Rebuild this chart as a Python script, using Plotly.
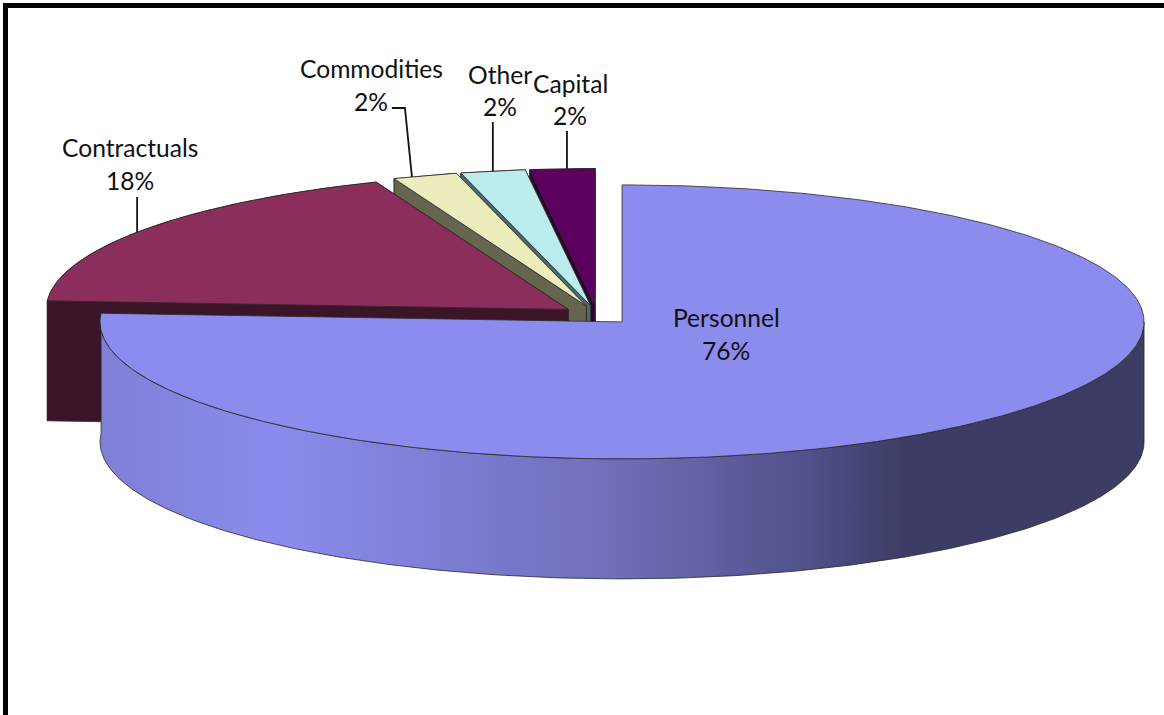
import math
import plotly.graph_objects as go

# Budget shares, clockwise from twelve o'clock
categories = ["Personnel", "Contractuals", "Commodities", "Other", "Capital"]
shares = [76, 18, 2, 2, 2]

top_colors = ["#8C8CEE", "#8B2E5C", "#ECECBC", "#BBEDEE", "#5E0060"]
side_colors = ["#3C3C64", "#3C1428", "#66664E", "#4C6A6E", "#330033"]
edge_color = "#2A2A2A"

# Projection of the tilted pie onto the page, in page pixels
center_x, center_y = 597.4, 315.0
radius_x, radius_y = 522.0, 137.0
depth = 120.0
explode = 36.0

wall_stops = [[0.0, "#7F7FD6"], [0.17, "#8B8BEE"], [0.5, "#6E6EB8"], [0.68, "#50508A"],
              [0.77, "#3C3C64"], [1.0, "#3C3C64"]]


def point(cx, cy, degrees):
    a = math.radians(degrees)
    return cx + radius_x * math.sin(a), cy - radius_y * math.cos(a)


def polygon(xs, ys, fill, **extra):
    return go.Scatter(
        x=xs + xs[:1], y=ys + ys[:1], mode="lines", fill="toself", fillcolor=fill,
        line=dict(color=edge_color, width=0.8), hoverinfo="skip", showlegend=False, **extra,
    )


fig = go.Figure()
total = sum(shares)
spans = []
start = 0.0
for share in shares:
    end = start + 360.0 * share / total
    spans.append((start, end))
    start = end

# Where along its rim each slice's leader line starts, as a fraction of the slice
leader_fractions = {"Contractuals": 0.474, "Commodities": 0.29, "Other": 0.5, "Capital": 0.57}
leader_starts = {}

# Painted back to front so nearer slices cover the farther ones
for i in reversed(range(len(categories))):
    name = categories[i]
    a0, a1 = spans[i]
    mid = (a0 + a1) / 2
    cx = center_x + explode * math.sin(math.radians(mid))
    cy = center_y - explode * radius_y / radius_x * math.cos(math.radians(mid))
    steps = max(12, int((a1 - a0) * 1.5))
    angles = [a0 + (a1 - a0) * k / steps for k in range(steps + 1)]
    arc = [point(cx, cy, d) for d in angles]
    ax = [p[0] for p in arc]
    ay = [p[1] for p in arc]
    if name in leader_fractions:
        leader_starts[name] = point(cx, cy, a0 + (a1 - a0) * leader_fractions[name])

    if name == "Personnel":
        # Only the front of the wall shows; it carries the lighting gradient
        front = [p for p, d in zip(arc, angles) if d >= 90]
        fx = [p[0] for p in front]
        fy = [p[1] for p in front]
        wall_x = fx + fx[::-1]
        wall_y = fy + [y + depth for y in fy[::-1]]
        fig.add_trace(polygon(wall_x, wall_y, side_colors[i], fillgradient=dict(
            type="horizontal", colorscale=wall_stops, start=min(fx), stop=max(fx))))
    else:
        # Far cut face, then the rim, then the near cut face on top
        ex, ey = arc[-1]
        fig.add_trace(polygon([cx, ex, ex, cx], [cy, ey, ey + depth, cy + depth], side_colors[i]))
        fig.add_trace(polygon(ax + ax[::-1], ay + [y + depth for y in ay[::-1]], side_colors[i]))
        ex, ey = arc[0]
        fig.add_trace(polygon([cx, ex, ex, cx], [cy, ey, ey + depth, cy + depth], side_colors[i]))

    fig.add_trace(polygon([cx] + ax, [cy] + ay, top_colors[i]))

# Leader lines climb from the rim of each small slice to its label
leader_tops = {"Contractuals": 197, "Commodities": 108, "Other": 122, "Capital": 131}
for name, top in leader_tops.items():
    x0, y0 = leader_starts[name]
    xs, ys = [x0, x0], [y0, top]
    if name == "Commodities":
        xs = [x0, x0 - 7, x0 - 20]
        ys = [y0, top, top]
    fig.add_trace(go.Scatter(x=xs, y=ys, mode="lines", line=dict(color="#111111", width=1.8),
                             hoverinfo="skip", showlegend=False))

# Label centres on the page: name line, then percentage line
label_places = {
    "Personnel": (726, 317, 350),
    "Contractuals": (130, 147, 180),
    "Commodities": (371, 68, 101),
    "Other": (500, 74, 106),
    "Capital": (570, 83, 115),
}
for name, share in zip(categories, shares):
    x, y_name, y_pct = label_places[name]
    for text, y in ((name, y_name), (f"{share}%", y_pct)):
        fig.add_annotation(x=x, y=y, text=text, showarrow=False, xanchor="center", yanchor="middle",
                           font=dict(family="Lato", size=24.6, color="#111111"))

# Heavy frame along the top and left of the page
fig.add_shape(type="path", path="M 5.5 730 L 5.5 5.5 L 1180 5.5", line=dict(color="#000000", width=5),
              layer="above")

fig.update_layout(
    width=1164, height=715, margin=dict(l=0, r=0, t=0, b=0),
    paper_bgcolor="#FFFFFF", plot_bgcolor="#FFFFFF",
    xaxis=dict(range=[0, 1164], visible=False, fixedrange=True),
    yaxis=dict(range=[715, 0], visible=False, fixedrange=True),
)
fig.write_html("out.html")
